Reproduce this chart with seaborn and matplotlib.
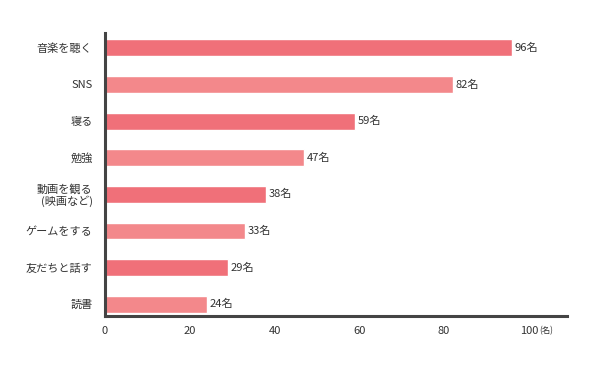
import matplotlib
matplotlib.use("Agg")
import matplotlib.pyplot as plt
import seaborn as sns
import pandas as pd

# data
activities = ["音楽を聴く", "SNS", "寝る", "勉強", "動画を観る\n(映画など)",
              "ゲームをする", "友だちと話す", "読書"]
counts = [96, 82, 59, 47, 38, 33, 29, 24]
x_ticks = [0, 20, 40, 60, 80, 100]

dark_pink = "#f07079"
light_pink = "#f3888b"
bar_colors = [dark_pink if i % 2 == 0 else light_pink for i in range(len(activities))]

sns.set_theme(style="white")
plt.rcParams['font.family'] = ['Noto Sans CJK JP', 'DejaVu Sans']

df = pd.DataFrame({"activity": activities, "count": counts})

fig = plt.figure(figsize=(6, 3.69), dpi=100)
ax = fig.add_axes([0.175, 0.144, 0.77, 0.766])

sns.barplot(data=df, y="activity", x="count", hue="activity",
            palette=bar_colors, orient="h", width=0.46, saturation=1,
            legend=False, ax=ax)

for i, v in enumerate(counts):
    ax.text(v + 0.6, i, f"{v}名", va="center", ha="left",
            fontsize=8, color="#333333")

ax.set_xlim(0, 109)
ax.set_ylim(7.32, -0.4)
ax.set_xticks(x_ticks)
ax.set_xticklabels([str(t) for t in x_ticks])
ax.text(102.4, -0.035, "(名)", transform=ax.get_xaxis_transform(),
        fontsize=6, color="#333333", va="top", ha="left")

ax.set_xlabel("")
ax.set_ylabel("")
ax.tick_params(axis="both", length=0, labelsize=8, colors="#333333")
ax.tick_params(axis="x", pad=7)
ax.tick_params(axis="y", pad=9)
for lbl in ax.get_yticklabels():
    lbl.set_horizontalalignment("right")
    lbl.set_linespacing(1.1)

for side in ["top", "right"]:
    ax.spines[side].set_visible(False)
for side in ["left", "bottom"]:
    ax.spines[side].set_color("#444444")
    ax.spines[side].set_linewidth(2.2)

fig.savefig("out.png", dpi=100)
